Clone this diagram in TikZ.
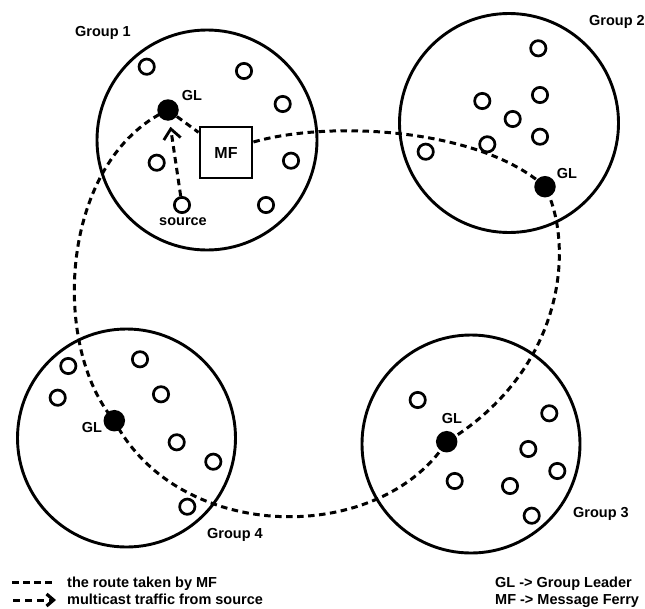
\documentclass[tikz,border=0pt]{standalone}
\usepackage{fontspec}
\setmainfont{Liberation Sans}
\usetikzlibrary{arrows.meta,backgrounds}
\begin{document}
\begin{tikzpicture}[x=1pt,y=-1pt,
  group/.style={circle,draw,line width=2.9pt,inner sep=0pt,minimum size=#1},
  member/.style={circle,draw,line width=2.7pt,inner sep=0pt,minimum size=15.3pt},
  leader/.style={circle,fill,inner sep=0pt,minimum size=21.5pt},
  lbl/.style={font=\fontsize{14.5}{16}\selectfont\bfseries,inner sep=0pt},
  route/.style={line width=3pt,dash pattern=on 6.5pt off 4.5pt},
  traffic/.style={line width=3pt,dash pattern=on 6.5pt off 4.5pt,
    -{Straight Barb[length=10pt,width=17pt,line width=2.8pt]}},
  ferry/.style={draw,line width=2.9pt,minimum width=52pt,minimum height=51pt,inner sep=0pt,
    font=\fontsize{16}{18}\selectfont\bfseries},
]
\useasboundingbox (0,0) rectangle (645,608);

% group circles
\node[group=220pt] (G1) at (207,140) {};
\node[group=219pt] (G2) at (509,123) {};
\node[group=218pt] (G3) at (471,444) {};
\node[group=218pt] (G4) at (126.5,438) {};

% group labels
\node[lbl,anchor=base west] (t1) at (75,36) {Group 1};
\node[lbl,anchor=base west] (t2) at (589,25) {Group 2};
\node[lbl,anchor=base west] (t3) at (573,517) {Group 3};
\node[lbl,anchor=base west] (t4) at (207,538) {Group 4};

% message ferry
\node[ferry] (mf) at (226,152.5) {MF};

% group 1
\node[member] (a1) at (146.7,66.7) {};
\node[member] (a2) at (244,71) {};
\node[member] (a3) at (282.7,104) {};
\node[member] (a4) at (156.7,162.7) {};
\node[member] (a5) at (291,160.7) {};
\node[member] (a6) at (266,205) {};
\node[member] (src) at (182,205) {};
\node[leader] (gl1) at (168,110) {};
\node[lbl,anchor=base] (gl1t) at (192,100) {GL};
\node[lbl,anchor=base] (srct) at (183,225) {source};

% group 2
\node[member] (b1) at (538.3,48.3) {};
\node[member] (b2) at (540,95) {};
\node[member] (b3) at (482.3,101) {};
\node[member] (b4) at (512.7,119) {};
\node[member] (b5) at (540,136.7) {};
\node[member] (b6) at (487.3,144.3) {};
\node[member] (b7) at (425.7,151.7) {};
\node[leader] (gl2) at (545,186.7) {};
\node[lbl,anchor=base] (gl2t) at (567,178) {GL};

% group 3
\node[member] (c1) at (417.7,400) {};
\node[member] (c2) at (549.3,413.3) {};
\node[member] (c3) at (528.3,449) {};
\node[member] (c4) at (557.3,471) {};
\node[member] (c5) at (454.7,481) {};
\node[member] (c6) at (510,486) {};
\node[member] (c7) at (531.7,515.7) {};
\node[leader] (gl3) at (446.7,441.7) {};
\node[lbl,anchor=base] (gl3t) at (452,423) {GL};

% group 4
\node[member] (d1) at (68.3,366) {};
\node[member] (d2) at (57.7,397.7) {};
\node[member] (d3) at (140,359.3) {};
\node[member] (d4) at (161,394.3) {};
\node[member] (d5) at (176.7,442.3) {};
\node[member] (d6) at (213.3,461.7) {};
\node[member] (d7) at (187.3,506.7) {};
\node[leader] (gl4) at (114.3,420.7) {};
\node[lbl,anchor=base] (gl4t) at (92,432) {GL};

% route of the message ferry
\coordinate (mfout) at ([yshift=10.5pt]mf.east);
\draw[route] (gl1) -- (mf);
\draw[route] (mfout) .. controls (330,120) and (480,128) .. (gl2.center)
  .. controls (575,245) and (565,370) .. (gl3.center)
  .. controls (380,545) and (180,545) .. (gl4.center)
  .. controls (50,345) and (60,160) .. (gl1.center);

% multicast traffic
\draw[traffic,shorten >=6pt] (src) -- (gl1);

% legend
\coordinate (ld1) at (12,582);
\coordinate (ld2) at (53,582);
\coordinate (la1) at (13,600);
\coordinate (la2) at (56,600);
\draw[route,dash pattern=on 7pt off 4pt] (ld1) -- (ld2);
\draw[line width=3pt,dash pattern=on 7pt off 5pt,
  -{Straight Barb[length=7pt,width=12pt,line width=3.2pt]}] (la1) -- (la2);
\node[lbl,anchor=base west] (lt1) at (67,587) {the route taken by MF};
\node[lbl,anchor=base west] (lt2) at (67,604.5) {multicast traffic from source};
\node[lbl,anchor=base west] (lt3) at (495,587) {GL -> Group Leader};
\node[lbl,anchor=base west] (lt4) at (495,604.5) {MF -> Message Ferry};
\end{tikzpicture}
\end{document}
